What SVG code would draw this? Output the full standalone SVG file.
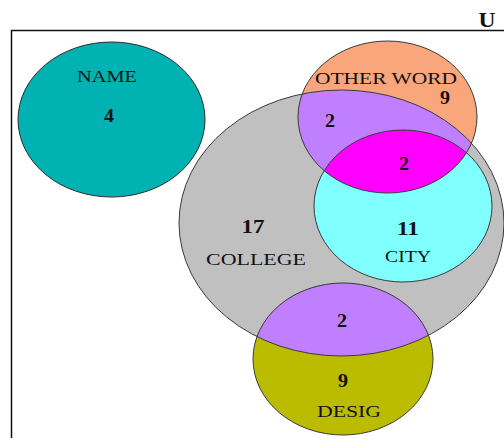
<svg xmlns="http://www.w3.org/2000/svg" width="504" height="439" viewBox="0 0 504 439">
<style>
.lbl{font-family:"Liberation Serif","Times New Roman",serif;font-size:17px;fill:#111;text-anchor:middle}
.num{font-family:"Liberation Serif","Times New Roman",serif;font-size:18px;font-weight:bold;fill:#111;text-anchor:middle}
.ol{fill:none;stroke:#3a3a3a;stroke-width:1}
</style>
<defs>
<clipPath id="clipGray"><ellipse cx="341.5" cy="223" rx="162.5" ry="133"/></clipPath>
<clipPath id="clipCyan"><ellipse cx="403" cy="206" rx="89" ry="76"/></clipPath>
</defs>
<g id="frame">
<path d="M11.5,438 V30.5 H504" fill="none" stroke="#111" stroke-width="1.5"/>
<text x="487" y="27" font-family="Liberation Serif,serif" font-size="21" font-weight="bold" fill="#111" text-anchor="middle" textLength="17" lengthAdjust="spacingAndGlyphs">U</text>
</g>
<g id="name">
<ellipse cx="111.5" cy="119.5" rx="93.5" ry="77.5" fill="#00B2B2" stroke="#2a2a2a" stroke-width="1"/>
<text class="lbl" x="107" y="82" textLength="60" lengthAdjust="spacingAndGlyphs">NAME</text>
<text class="num" x="109" y="122" textLength="10" lengthAdjust="spacingAndGlyphs">4</text>
</g>
<g id="college">
<ellipse cx="341.5" cy="223" rx="162.5" ry="133" fill="#C0C0C0"/>
</g>
<g id="otherword">
<ellipse cx="387.5" cy="117" rx="89.5" ry="76" fill="#FAA67C"/>
<ellipse cx="387.5" cy="117" rx="89.5" ry="76" fill="#BF7FFF" clip-path="url(#clipGray)"/>
</g>
<g id="city">
<ellipse cx="403" cy="206" rx="89" ry="76" fill="#80FFFF"/>
<ellipse cx="387.5" cy="117" rx="89.5" ry="76" fill="#FF00FF" clip-path="url(#clipCyan)"/>
</g>
<g id="desig">
<ellipse cx="343" cy="359" rx="90" ry="76" fill="#BBBB00"/>
<ellipse cx="343" cy="359" rx="90" ry="76" fill="#BF7FFF" clip-path="url(#clipGray)"/>
</g>
<g id="outlines">
<ellipse class="ol" cx="341.5" cy="223" rx="162.5" ry="133"/>
<ellipse class="ol" cx="387.5" cy="117" rx="89.5" ry="76"/>
<ellipse class="ol" cx="403" cy="206" rx="89" ry="76"/>
<ellipse class="ol" cx="343" cy="359" rx="90" ry="76"/>
</g>
<g id="labels">
<text class="lbl" x="386" y="84" textLength="142" lengthAdjust="spacingAndGlyphs">OTHER WORD</text>
<text class="num" x="445" y="104" textLength="10" lengthAdjust="spacingAndGlyphs">9</text>
<text class="num" x="330" y="127" textLength="10" lengthAdjust="spacingAndGlyphs">2</text>
<text class="num" x="404" y="170" textLength="10" lengthAdjust="spacingAndGlyphs">2</text>
<text class="num" x="253" y="233" textLength="23" lengthAdjust="spacingAndGlyphs">17</text>
<text class="lbl" x="256" y="265" textLength="100" lengthAdjust="spacingAndGlyphs">COLLEGE</text>
<text class="num" x="408" y="235" textLength="22" lengthAdjust="spacingAndGlyphs">11</text>
<text class="lbl" x="408" y="262" textLength="46" lengthAdjust="spacingAndGlyphs">CITY</text>
<text class="num" x="342" y="327" textLength="10" lengthAdjust="spacingAndGlyphs">2</text>
<text class="num" x="343" y="387" textLength="10" lengthAdjust="spacingAndGlyphs">9</text>
<text class="lbl" x="349" y="417" textLength="64" lengthAdjust="spacingAndGlyphs">DESIG</text>
</g>
</svg>
